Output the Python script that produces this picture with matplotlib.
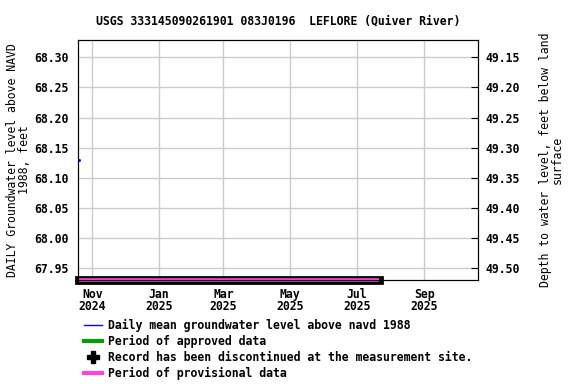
import pandas as pd
import matplotlib
matplotlib.use("Agg")
import matplotlib.pyplot as plt
import matplotlib.transforms as mtransforms
from matplotlib.lines import Line2D

# data
daily_dates = pd.to_datetime(["2024-10-20"])
daily_levels = [68.13]
provisional_dates = pd.to_datetime(["2024-10-20", "2025-07-21"])
land_surface = 117.45  # level + depth
tick_months = pd.to_datetime(["2024-11-01", "2025-01-01", "2025-03-01",
                              "2025-05-01", "2025-07-01", "2025-09-01"])
tick_labels = ["Nov\n2024", "Jan\n2025", "Mar\n2025", "May\n2025", "Jul\n2025", "Sep\n2025"]
level_ticks = [67.95, 68.00, 68.05, 68.10, 68.15, 68.20, 68.25, 68.30]
depth_ticks = [49.15, 49.20, 49.25, 49.30, 49.35, 49.40, 49.45, 49.50]

plt.rcParams["font.family"] = "DejaVu Sans Mono"
plt.rcParams["font.weight"] = "bold"
plt.rcParams["font.size"] = 8.3

fig = plt.figure(figsize=(5.76, 3.84), dpi=100)
ax = fig.add_axes([78 / 576, 1 - 280 / 384, 400 / 576, 240 / 384])

ylo, yhi = 67.9306, 68.3287
ax.set_ylim(ylo, yhi)
ax.set_xlim(pd.Timestamp("2024-10-19"), pd.Timestamp("2025-10-20"))

ax.plot(daily_dates, daily_levels, color="blue", marker="s", markersize=1, lw=1)

ax.set_xticks(tick_months)
ax.set_xticklabels(tick_labels, linespacing=0.9)
ax.set_yticks(level_ticks)
ax.set_yticklabels([f"{v:.2f}" for v in level_ticks])
ax.grid(color="#cccccc", lw=1)
ax.set_axisbelow(True)
ax.tick_params(axis="y", length=0, pad=7)
ax.tick_params(axis="x", length=0, pad=6)

ax2 = ax.twinx()
ax2.set_ylim(land_surface - ylo, land_surface - yhi)
ax2.set_yticks(depth_ticks)
ax2.set_yticklabels([f"{v:.2f}" for v in depth_ticks])
ax2.tick_params(axis="y", direction="in", length=5, pad=5)

# provisional bar at the bottom edge, spine drawn over it
trans = mtransforms.blended_transform_factory(ax2.transData, ax2.transAxes)
ax2.plot(provisional_dates, [0.0, 0.0], color="black", lw=6.3,
         solid_capstyle="projecting", transform=trans, clip_on=False, zorder=1)
ax2.plot(provisional_dates, [0.0, 0.0], color="#ff44dd", lw=2.6,
         solid_capstyle="butt", transform=trans, clip_on=False, zorder=2)

ax.set_title("USGS 333145090261901 083J0196  LEFLORE (Quiver River)",
             fontsize=8.3, fontweight="bold", pad=11)
ax.set_ylabel("DAILY Groundwater level above NAVD\n1988, feet", labelpad=2,
              linespacing=0.9)
ax2.set_ylabel("Depth to water level, feet below land\nsurface", labelpad=14,
               linespacing=0.9)

handles = [
    Line2D([], [], color="blue", lw=1),
    Line2D([], [], color="#00a000", lw=3),
    Line2D([], [], color="black", marker="P", markersize=8, lw=0),
    Line2D([], [], color="#ff44dd", lw=3),
]
labels = [
    "Daily mean groundwater level above navd 1988",
    "Period of approved data",
    "Record has been discontinued at the measurement site.",
    "Period of provisional data",
]
fig.legend(handles, labels, loc="upper left", bbox_to_anchor=(84 / 576, 1 - 319 / 384),
           frameon=False, handlelength=1.55, handletextpad=0.55,
           labelspacing=0.25, borderpad=0, borderaxespad=0)

fig.savefig("out.png", dpi=100)
